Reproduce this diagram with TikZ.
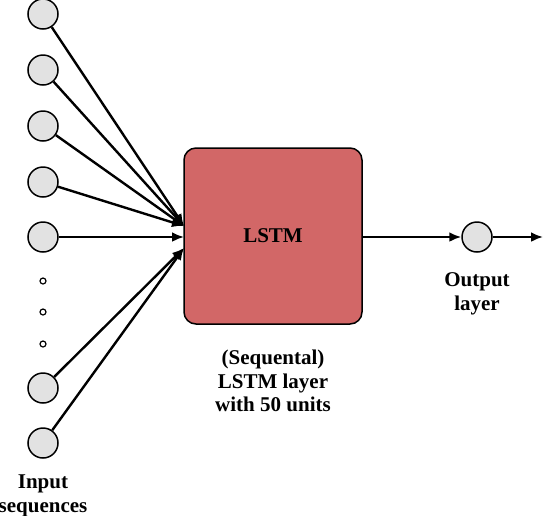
\documentclass[tikz,border=0pt]{standalone}
\usepackage{fontspec}
\setmainfont{Liberation Serif}
\usetikzlibrary{positioning,arrows.meta}
\definecolor{lstmred}{HTML}{D26767}
\definecolor{unitgray}{HTML}{E2E2E2}

\begin{document}
\begin{tikzpicture}[-{Latex[length=6pt, width=5pt]}, x=0.5pt, y=-0.5pt, line width=1.2pt,
            unit/.style ={circle, draw, fill=unitgray, line width=0.75pt, minimum size=15pt, inner sep=0pt},
            dots/.style ={circle, draw, line width=0.6pt, minimum size=3pt, inner sep=0pt},
            lstm/.style ={rectangle, rounded corners=6pt, draw, fill=lstmred, line width=0.75pt,
            minimum width=89pt, minimum height=88pt, font=\fontsize{10.5pt}{12pt}\selectfont\bfseries},
            caption/.style ={align=center, font=\fontsize{10.5pt}{11.7pt}\selectfont\bfseries, inner sep=0pt}]

            \useasboundingbox (0,0) rectangle (544,515);

            %entradas
            \node[unit] (x1) at (43, 14) {};
            \node[unit] (x2) at (43, 70) {};
            \node[unit] (x3) at (43, 126) {};
            \node[unit] (x4) at (43, 182) {};
            \node[unit] (x5) at (43, 237) {};
            \node[dots] (d1) at (43, 281) {};
            \node[dots] (d2) at (43, 312) {};
            \node[dots] (d3) at (43, 344) {};
            \node[unit] (x6) at (43, 388) {};
            \node[unit] (x7) at (43, 443) {};

            %capa LSTM y salida
            \node[lstm] (lstm) at (273, 236) {LSTM};
            \node[unit] (out) at (477, 237) {};

            \coordinate (inA) at (184, 226);
            \coordinate (inB) at (184, 237);
            \coordinate (inC) at (184, 248);
            \coordinate (fin) at (543, 237);

            \node[caption] (inlbl) at (43, 496) {Input\\sequences};
            \node[caption] (outlbl) at (477, 294) {Output\\layer};
            \node[caption] (lstmlbl) at (273, 381) {(Sequental)\\LSTM layer\\with 50 units};

            \path (x1) edge (inA);
            \path (x2) edge (inA);
            \path (x3) edge (inA);
            \path (x4) edge (inA);
            \path (x5) edge (inB);
            \path (x6) edge (inC);
            \path (x7) edge (inC);

            \path (lstm.east |- out) edge (out);
            \path (out) edge (fin);
        \end{tikzpicture}
\end{document}
